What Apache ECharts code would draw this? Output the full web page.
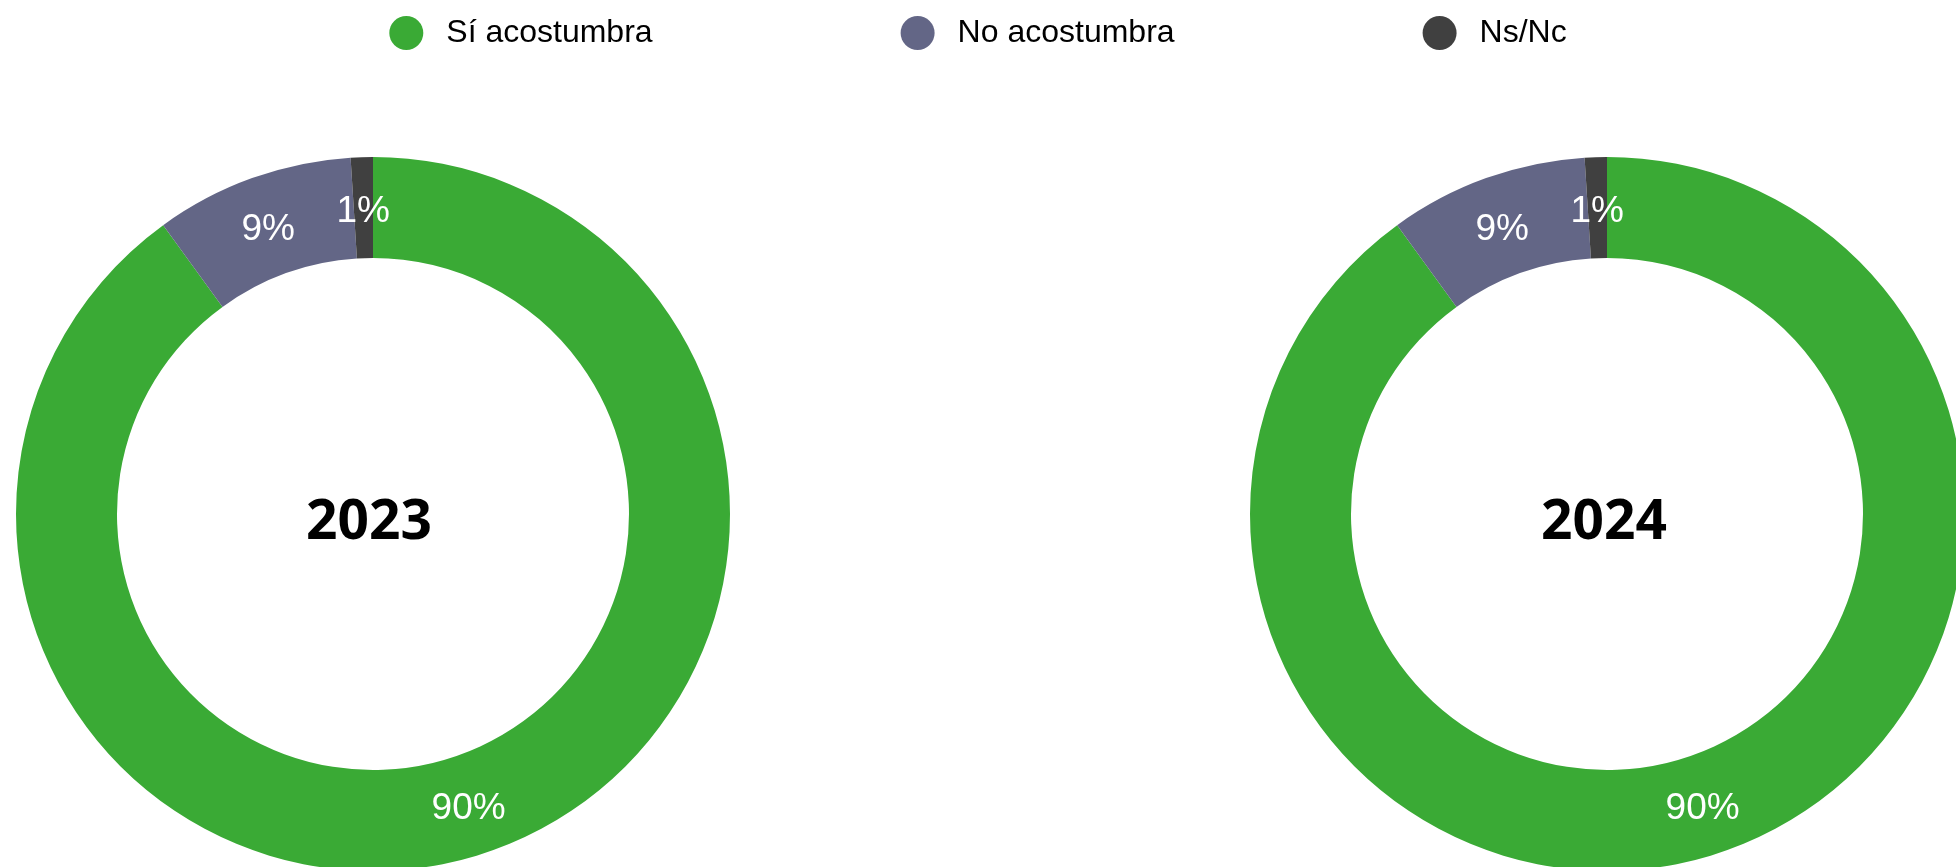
<!DOCTYPE html>
<html>
<head>
<meta charset="utf-8">
<script src="https://cdn.jsdelivr.net/npm/echarts@6/dist/echarts.min.js"></script>
<style>
html,body{margin:0;padding:0;background:#fff;}
#chart{width:1956px;height:867px;}
</style>
</head>
<body>
<div id="chart"></div>
<script>
const categories = ['Sí acostumbra', 'No acostumbra', 'Ns/Nc'];
const years = ['2023', '2024'];
const values2023 = [90, 9, 1];
const values2024 = [90, 9, 1];
const colors = ['#3AAA35', '#636686', '#404040'];

const chart = echarts.init(document.getElementById('chart'));

function makePie(year, values, cx) {
  return {
    name: year,
    type: 'pie',
    center: [cx, 514],
    radius: [256, 357],
    startAngle: 90,
    clockwise: true,
    avoidLabelOverlap: false,
    animation: false,
    silent: true,
    label: {
      show: true,
      position: 'inside',
      formatter: '{c}%',
      color: '#ffffff',
      fontSize: 37,
      fontFamily: 'Liberation Sans, Arial, sans-serif'
    },
    labelLine: { show: false },
    itemStyle: { borderWidth: 0 },
    data: categories.map((c, i) => ({
      name: c, value: values[i], itemStyle: { color: colors[i] },
      label: i > 0 ? { offset: [0, 7] } : {}
    }))
  };
}

function centerText(text, x) {
  return {
    type: 'text', x: x, y: 523, silent: true,
    style: {
      text: text, fill: '#000', textAlign: 'center', textVerticalAlign: 'middle',
      font: 'bold 55px "Noto Sans"'
    }
  };
}

const option = {
  backgroundColor: '#ffffff',
  legend: {
    data: categories,
    top: 11,
    left: 'center',
    icon: 'circle',
    itemWidth: 34,
    itemHeight: 34,
    itemGap: 248,
    textStyle: {
      fontSize: 32,
      color: '#000',
      fontFamily: 'Liberation Sans, Arial, sans-serif',
      padding: [0, 0, 0, 18]
    }
  },
  graphic: [centerText(years[0], 369), centerText(years[1], 1604)],
  series: [
    makePie(years[0], values2023, 373),
    makePie(years[1], values2024, 1607)
  ]
};
chart.setOption(option);
</script>
</body>
</html>
